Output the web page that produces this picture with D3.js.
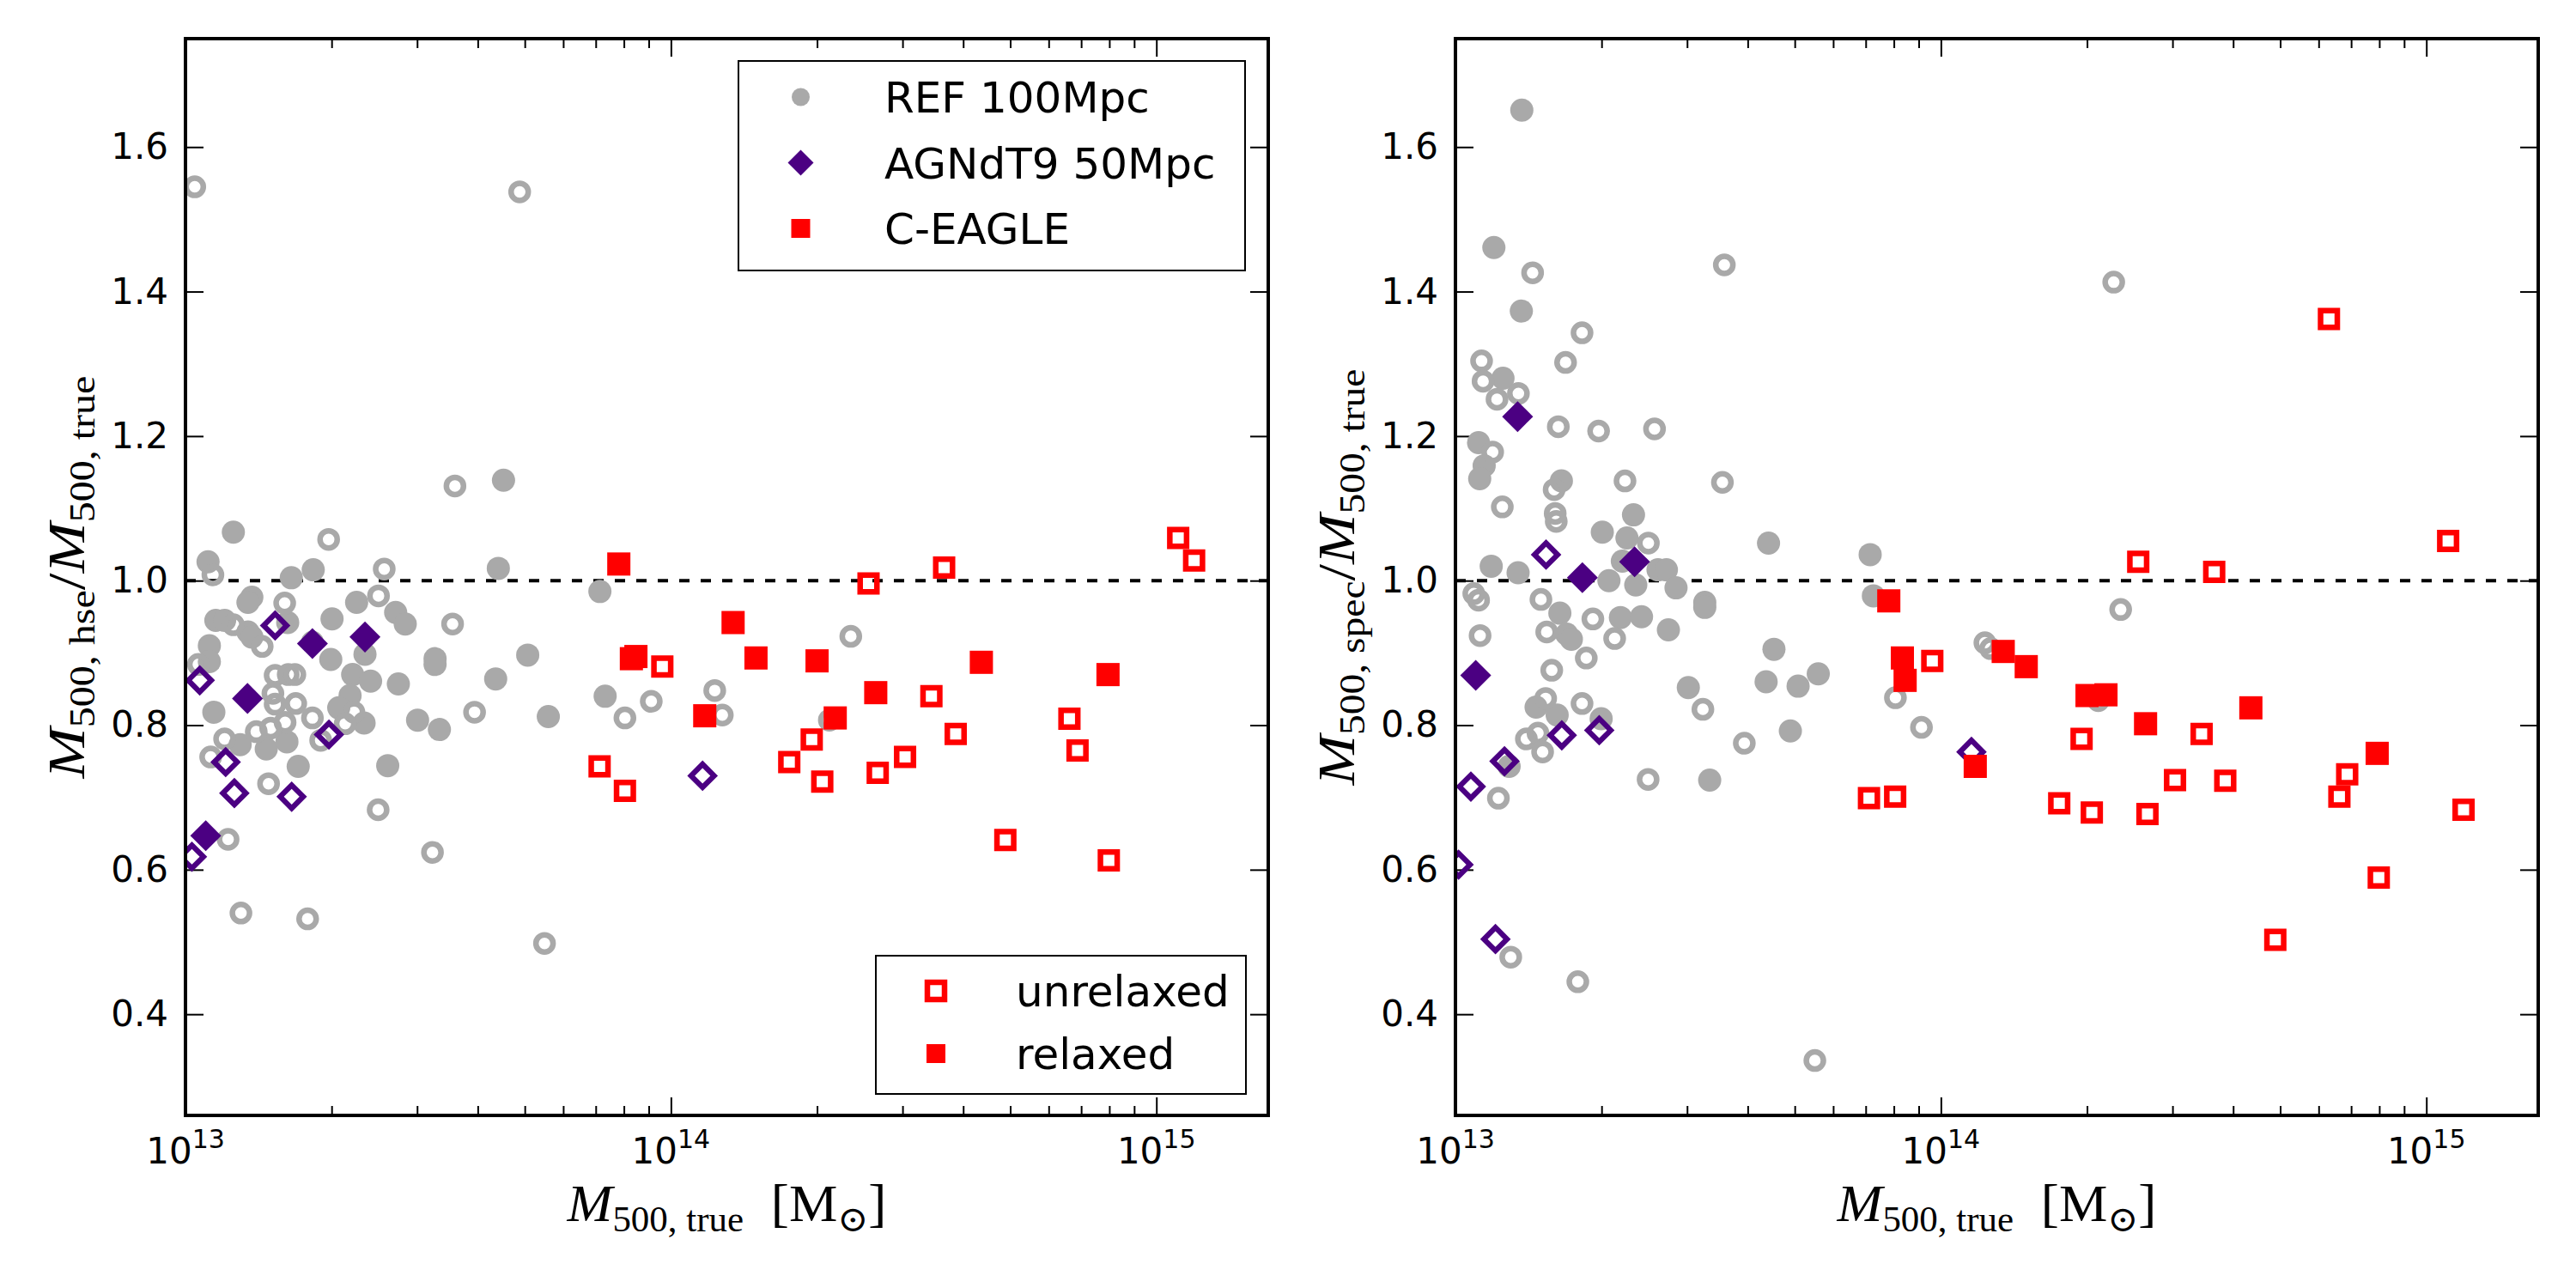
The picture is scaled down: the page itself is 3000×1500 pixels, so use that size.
<!DOCTYPE html>
<html lang="en">
<head>
<meta charset="utf-8">
<title>Mass bias: hydrostatic and spectroscopic</title>
<script src="https://cdn.jsdelivr.net/npm/d3@7"></script>
<style>
  body { margin: 0; background: #fff; }
  svg text { font-family: "DejaVu Sans", sans-serif; }
  svg text.math { font-family: "Liberation Serif", "DejaVu Serif", serif; }
</style>
</head>
<body>
<div id="chart"></div>
<script>
// ---- data: [M500,true in Msun, mass ratio] ----
// left panel: M500,hse / M500,true
var refHseRelaxed = [[4.52e13,1.139],[1.255e13,1.067],[1.113e13,1.026],[1.652e13,1.004],[1.833e13,1.015],[4.41e13,1.017],[7.14e13,0.985],[1.37e13,0.977],[1.345e13,0.970],[2.252e13,0.970],[2.71e13,0.956],[2.836e13,0.940],[1.155e13,0.945],[1.204e13,0.945],[1.624e13,0.942],[2.004e13,0.947],[1.345e13,0.929],[1.37e13,0.922],[2.343e13,0.898],[1.992e13,0.891],[1.12e13,0.910],[1.12e13,0.888],[1.144e13,0.818],[2.21e13,0.870],[2.406e13,0.861],[2.745e13,0.857],[3.267e13,0.892],[3.267e13,0.884],[4.355e13,0.864],[5.07e13,0.897],[2.183e13,0.841],[2.069e13,0.824],[2.333e13,0.803],[3.007e13,0.807],[3.335e13,0.794],[5.59e13,0.812],[7.32e13,0.840],[1.707e13,0.743],[2.61e13,0.744],[1.467e13,0.767],[1.296e13,0.773],[1.618e13,0.777]];
var refHseUnrelaxed = [[1.045e13,1.545],[4.88e13,1.538],[3.59e13,1.131],[1.972e13,1.057],[1.139e13,1.008],[2.567e13,1.016],[1.601e13,0.969],[2.498e13,0.979],[3.55e13,0.940],[1.255e13,0.939],[1.439e13,0.909],[1.063e13,0.884],[1.53e13,0.869],[1.628e13,0.870],[1.68e13,0.870],[2.223e13,0.818],[2.133e13,0.802],[1.514e13,0.844],[1.53e13,0.829],[1.687e13,0.830],[1.826e13,0.810],[1.604e13,0.804],[1.498e13,0.796],[1.399e13,0.791],[3.94e13,0.818],[8.04e13,0.810],[9.11e13,0.833],[1.231e14,0.848],[1.276e14,0.814],[2.347e14,0.923],[2.12e14,0.807],[2.494e13,0.683],[3.227e13,0.624],[1.224e13,0.642],[1.301e13,0.540],[1.785e13,0.532],[5.49e13,0.498],[1.483e13,0.719],[1.204e13,0.781],[1.127e13,0.756],[1.899e13,0.779],[1.826e13,0.915]];
var agnHseRelaxed = [[1.826e13,0.913],[2.343e13,0.922],[1.342e13,0.837],[1.101e13,0.647]];
var agnHseUnrelaxed = [[1.53e13,0.938],[1.07e13,0.862],[1.21e13,0.749],[1.261e13,0.706],[1.655e13,0.701],[1.975e13,0.787],[1.162e14,0.730],[1.031e13,0.618]];
var ceHseRelaxed = [[7.81e13,1.023],[8.29e13,0.892],[8.47e13,0.895],[1.343e14,0.942],[1.497e14,0.893],[2.0e14,0.889],[2.18e14,0.810],[1.174e14,0.813],[2.642e14,0.845],[4.36e14,0.887],[7.95e14,0.870]];
var ceHseUnrelaxed = [[9.6e13,0.881],[7.13e13,0.743],[8.04e13,0.709],[1.753e14,0.749],[1.95e14,0.780],[2.05e14,0.722],[1.109e15,1.059],[1.196e15,1.028],[3.654e14,1.018],[2.553e14,0.996],[3.44e14,0.840],[3.86e14,0.788],[2.667e14,0.734],[3.036e14,0.756],[6.62e14,0.809],[6.88e14,0.765],[4.885e14,0.641],[7.98e14,0.613]];

// right panel: M500,spec / M500,true
var refSpecRelaxed = [[1.37e13,1.651],[1.2e13,1.461],[1.367e13,1.373],[1.253e13,1.280],[1.116e13,1.191],[1.146e13,1.159],[1.122e13,1.141],[1.653e13,1.138],[2.327e13,1.091],[2.007e13,1.067],[2.256e13,1.059],[4.415e13,1.052],[7.15e13,1.036],[1.185e13,1.020],[1.346e13,1.011],[2.207e13,1.027],[2.614e13,1.015],[2.72e13,1.015],[2.071e13,1.000],[2.352e13,0.994],[2.847e13,0.990],[3.263e13,0.970],[3.263e13,0.963],[7.26e13,0.979],[1.641e13,0.955],[2.187e13,0.949],[2.417e13,0.950],[2.746e13,0.932],[1.695e13,0.926],[1.733e13,0.919],[4.53e13,0.905],[5.59e13,0.871],[4.365e13,0.860],[5.08e13,0.854],[3.018e13,0.852],[4.897e13,0.792],[3.34e13,0.724],[1.29e13,0.743],[1.996e13,0.809],[1.466e13,0.825],[1.62e13,0.814]];
var refSpecUnrelaxed = [[1.442e13,1.426],[3.58e13,1.437],[1.823e13,1.343],[1.132e13,1.304],[1.686e13,1.302],[1.14e13,1.276],[1.348e13,1.259],[1.218e13,1.251],[1.629e13,1.213],[1.972e13,1.207],[2.571e13,1.210],[1.193e13,1.178],[1.597e13,1.126],[2.235e13,1.138],[3.548e13,1.136],[1.249e13,1.102],[1.605e13,1.093],[1.613e13,1.082],[2.497e13,1.052],[1.091e13,0.982],[1.116e13,0.973],[1.5e13,0.974],[1.919e13,0.947],[1.542e13,0.929],[2.128e13,0.920],[1.124e13,0.924],[1.86e13,0.893],[1.579e13,0.876],[3.234e13,0.822],[3.936e13,0.775],[2.494e13,0.725],[8.06e13,0.838],[9.12e13,0.797],[1.232e14,0.914],[1.266e14,0.906],[2.27e14,1.413],[2.346e14,0.960],[2.11e14,0.834],[5.5e13,0.336],[1.787e13,0.445],[1.3e13,0.479],[1.226e13,0.699],[1.4e13,0.781],[1.479e13,0.789],[1.512e13,0.763],[1.534e13,0.837],[1.823e13,0.830]];
var agnSpecRelaxed = [[1.343e13,1.227],[1.826e13,1.004],[2.339e13,1.026],[1.101e13,0.869]];
var agnSpecUnrelaxed = [[1.537e13,1.036],[1.156e14,0.763],[1.209e13,0.504],[1.015e13,0.607],[1.076e13,0.715],[1.262e13,0.750],[1.656e13,0.786],[1.978e13,0.793]];
var ceSpecRelaxed = [[7.81e13,0.972],[8.33e13,0.893],[8.44e13,0.862],[1.344e14,0.902],[1.499e14,0.881],[2.0e14,0.841],[2.188e14,0.842],[1.177e14,0.743],[2.64e14,0.802],[4.35e14,0.824],[7.92e14,0.761]];
var ceSpecUnrelaxed = [[9.6e13,0.889],[7.11e13,0.699],[8.05e13,0.701],[6.3e14,1.362],[1.109e15,1.055],[2.55e14,1.026],[3.656e14,1.012],[1.949e14,0.781],[3.444e14,0.788],[3.036e14,0.724],[3.853e14,0.723],[6.87e14,0.732],[6.62e14,0.701],[1.753e14,0.692],[2.046e14,0.679],[2.664e14,0.677],[1.193e15,0.683],[7.98e14,0.589],[4.885e14,0.503]];

var xMajorTicks = [1e13, 1e14, 1e15];
var yTicks = [0.4, 0.6, 0.8, 1.0, 1.2, 1.4, 1.6];
var simNames = ["REF 100Mpc", "AGNdT9 50Mpc", "C-EAGLE"];
var stateNames = ["unrelaxed", "relaxed"];

// ---- layout ----
var svgWidth = 3000, svgHeight = 1500;
var plotW = 1261, plotH = 1254, top0 = 45;
var panelLefts = [216, 1695];

var grey = "#a9a9a9", indigo = "#4b0082", red = "#ff0000";

var svg = d3.select("#chart").append("svg")
  .attr("width", svgWidth).attr("height", svgHeight);

var x = d3.scaleLog().domain([1e13, 1.7e15]).range([0, plotW]);
var y = d3.scaleLinear().domain([0.26, 1.75]).range([plotH, 0]);

// marker sizes (px): full extent of filled marker, path size of open marker + stroke
var markers = {
  circle:  { filled: 27,   open: 20,   stroke: 6.5, rotate: 0 },
  diamond: { filled: 25.5, open: 19,   stroke: 6.2, rotate: 45 },
  square:  { filled: 27,   open: 19.5, stroke: 6.5, rotate: 0 }
};

function symbolPath(shape, dim) {
  if (shape === "circle") return d3.symbol(d3.symbolCircle, Math.PI * dim * dim / 4)();
  return d3.symbol(d3.symbolSquare, dim * dim)();
}

function drawPoints(g, data, shape, color, filled) {
  var m = markers[shape];
  g.selectAll(null).data(data).enter().append("path")
    .attr("d", symbolPath(shape, filled ? m.filled : m.open))
    .attr("transform", (d) => "translate(" + x(d[0]) + "," + y(d[1]) + ") rotate(" + m.rotate + ")")
    .attr("fill", filled ? color : "none")
    .attr("stroke", filled ? "none" : color)
    .attr("stroke-width", filled ? 0 : m.stroke);
}

// mathtext-like label: italic M with roman subscripts, stretched to target length
function mathLabel(g, parts, targetLen) {
  var t = g.append("text").attr("class", "math")
    .attr("text-anchor", "middle").attr("font-size", 62);
  var low = false;
  parts.forEach(function(p) {
    var s = t.append("tspan").text(p.t);
    if (p.it) s.attr("font-style", "italic");
    if (p.sub) {
      s.attr("font-size", 42);
      if (!low) { s.attr("dy", 12); low = true; }
    } else if (low) {
      s.attr("dy", -12); low = false;
    }
  });
  var w = t.node().getComputedTextLength();
  t.attr("transform", "scale(" + (targetLen / w) + ",1)");
}

function styleAxis(g) {
  g.select(".domain").remove();
  g.selectAll(".tick line").attr("stroke", "#000").attr("stroke-width", 2);
  g.attr("font-family", null).attr("font-size", 42);
}

var minorX = x.ticks().filter((d) => [1e13, 1e14, 1e15].indexOf(d) < 0);

function drawPanel(left, sets, yLabelParts, yLabelLen, clipId) {
  var g = svg.append("g").attr("transform", "translate(" + left + "," + top0 + ")");

  svg.append("clipPath").attr("id", clipId)
    .append("rect").attr("width", plotW).attr("height", plotH);

  // ticks on all four sides, pointing inward
  g.append("g").attr("transform", "translate(0," + plotH + ")")
    .call(d3.axisBottom(x).tickValues(xMajorTicks).tickSize(-21).tickFormat(() => "")).call(styleAxis);
  g.append("g").attr("transform", "translate(0," + plotH + ")")
    .call(d3.axisBottom(x).tickValues(minorX).tickSize(-11).tickFormat(() => "")).call(styleAxis);
  g.append("g")
    .call(d3.axisTop(x).tickValues(xMajorTicks).tickSize(-21).tickFormat(() => "")).call(styleAxis);
  g.append("g")
    .call(d3.axisTop(x).tickValues(minorX).tickSize(-11).tickFormat(() => "")).call(styleAxis);
  g.append("g")
    .call(d3.axisLeft(y).tickValues(yTicks).tickSize(-21).tickPadding(20).tickFormat(d3.format(".1f")))
    .call(styleAxis);
  g.append("g").attr("transform", "translate(" + plotW + ",0)")
    .call(d3.axisRight(y).tickValues(yTicks).tickSize(-21).tickFormat(() => "")).call(styleAxis);

  // x tick labels 10^n
  var xl = g.append("g").selectAll("text").data(xMajorTicks).enter().append("text")
    .attr("x", (d) => x(d)).attr("y", plotH + 56)
    .attr("text-anchor", "middle").attr("font-size", 42);
  xl.append("tspan").text("10");
  xl.append("tspan").attr("font-size", 30).attr("dy", -18)
    .text((d) => String(Math.round(Math.log10(d))));

  // reference line
  g.append("line")
    .attr("x1", 0).attr("x2", plotW).attr("y1", y(1.0)).attr("y2", y(1.0))
    .attr("stroke", "#000").attr("stroke-width", 4).attr("stroke-dasharray", "12 13");

  var pts = g.append("g").attr("clip-path", "url(#" + clipId + ")");
  drawPoints(pts, sets.refRelaxed, "circle", grey, true);
  drawPoints(pts, sets.refUnrelaxed, "circle", grey, false);
  drawPoints(pts, sets.agnRelaxed, "diamond", indigo, true);
  drawPoints(pts, sets.agnUnrelaxed, "diamond", indigo, false);
  drawPoints(pts, sets.ceUnrelaxed, "square", red, false);
  drawPoints(pts, sets.ceRelaxed, "square", red, true);

  // frame
  g.append("rect").attr("width", plotW).attr("height", plotH)
    .attr("fill", "none").attr("stroke", "#000").attr("stroke-width", 4);

  // axis labels
  mathLabel(g.append("g").attr("transform", "translate(" + (plotW / 2) + "," + (plotH + 123) + ")"),
    [{ t: "M", it: true }, { t: "500, true", sub: true }, { t: "\u2002[M" }, { t: "\u2299", sub: true }, { t: "]" }],
    372);
  mathLabel(g.append("g").attr("transform", "translate(-118," + (plotH / 2) + ") rotate(-90)"),
    yLabelParts, yLabelLen);

  return g;
}

var gLeft = drawPanel(panelLefts[0], {
  refRelaxed: refHseRelaxed, refUnrelaxed: refHseUnrelaxed,
  agnRelaxed: agnHseRelaxed, agnUnrelaxed: agnHseUnrelaxed,
  ceRelaxed: ceHseRelaxed, ceUnrelaxed: ceHseUnrelaxed
}, [{ t: "M", it: true }, { t: "500, hse", sub: true }, { t: "/" }, { t: "M", it: true }, { t: "500, true", sub: true }], 469, "clipL");

drawPanel(panelLefts[1], {
  refRelaxed: refSpecRelaxed, refUnrelaxed: refSpecUnrelaxed,
  agnRelaxed: agnSpecRelaxed, agnUnrelaxed: agnSpecUnrelaxed,
  ceRelaxed: ceSpecRelaxed, ceUnrelaxed: ceSpecUnrelaxed
}, [{ t: "M", it: true }, { t: "500, spec", sub: true }, { t: "/" }, { t: "M", it: true }, { t: "500, true", sub: true }], 485, "clipR");

// ---- legends (left panel only) ----
var legSim = gLeft.append("g").attr("transform", "translate(" + (plotW - 27 - 590) + ",26)");
legSim.append("rect").attr("width", 590).attr("height", 244)
  .attr("fill", "#fff").attr("stroke", "#000").attr("stroke-width", 2);
var simMarks = [
  { shape: "circle", color: grey, dim: 21, rot: 0 },
  { shape: "square", color: indigo, dim: 21.2, rot: 45 },
  { shape: "square", color: red, dim: 22, rot: 0 }
];
simNames.forEach(function(name, i) {
  var rowY = 42 + i * 76.5;
  legSim.append("path").attr("d", symbolPath(simMarks[i].shape, simMarks[i].dim))
    .attr("transform", "translate(72.5," + rowY + ") rotate(" + simMarks[i].rot + ")")
    .attr("fill", simMarks[i].color);
  legSim.append("text").attr("x", 170).attr("y", rowY + 18).attr("font-size", 50).text(name);
});

var legState = gLeft.append("g").attr("transform", "translate(" + (plotW - 26 - 431) + "," + (plotH - 25 - 161) + ")");
legState.append("rect").attr("width", 431).attr("height", 161)
  .attr("fill", "#fff").attr("stroke", "#000").attr("stroke-width", 2);
stateNames.forEach(function(name, i) {
  var rowY = 41 + i * 73;
  var filled = i === 1;
  legState.append("path").attr("d", symbolPath("square", filled ? 22 : 20))
    .attr("transform", "translate(70," + rowY + ")")
    .attr("fill", filled ? red : "none")
    .attr("stroke", filled ? "none" : red).attr("stroke-width", filled ? 0 : 6.5);
  legState.append("text").attr("x", 163).attr("y", rowY + 18).attr("font-size", 50).text(name);
});
</script>
</body>
</html>
